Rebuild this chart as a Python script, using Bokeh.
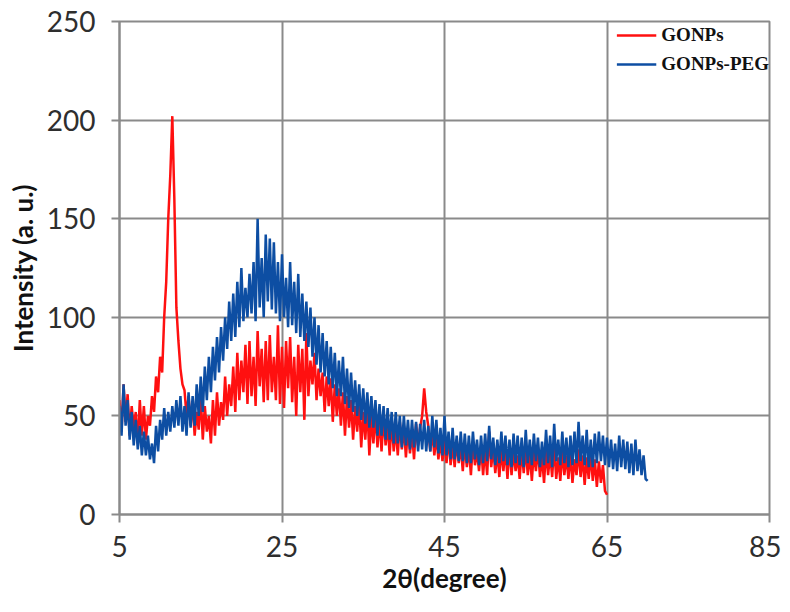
from bokeh.plotting import figure
from bokeh.models import Range1d, FixedTicker, Legend, LegendItem
from bokeh.embed import file_html
from bokeh.resources import INLINE

# 2-theta grid: 0.25 degree steps
x_start = 5.0
x_step = 0.25

# GONPs intensity (5 .. 65 deg), one row per degree
gonps = [
    58, 42, 66, 47,
    61, 40, 55, 44,
    52, 36, 58, 40,
    55, 38, 50, 45,
    60, 52, 70, 62,
    80, 72, 100, 118,
    150, 172, 202, 160,
    105, 88, 74, 66,
    63, 50, 60, 45,
    57, 40, 52, 43,
    60, 38, 55, 42,
    50, 36, 58, 40,
    62, 45, 57, 48,
    70, 50, 66, 55,
    75, 52, 82, 58,
    78, 62, 86, 56,
    88, 60, 80, 55,
    93, 65, 84, 57,
    88, 58, 91, 62,
    80, 58, 96, 56,
    85, 54, 88, 64,
    90, 57, 80, 50,
    86, 62, 84, 48,
    92, 60, 78, 66,
    82, 58, 74, 60,
    72, 52, 70, 55,
    69, 47, 66, 50,
    64, 45, 62, 40,
    60, 44, 58, 38,
    55, 42, 57, 34,
    52, 38, 55, 30,
    50, 36, 52, 34,
    49, 32, 50, 35,
    46, 30, 48, 32,
    44, 30, 47, 33,
    45, 29, 44, 31,
    42, 28, 46, 35,
    44, 50, 64, 52,
    45, 32, 42, 30,
    40, 28, 38, 27,
    38, 26, 40, 25,
    36, 24, 38, 26,
    35, 22, 36, 24,
    34, 20, 37, 25,
    32, 22, 35, 20,
    33, 20, 42, 24,
    34, 21, 32, 19,
    33, 22, 34, 18,
    35, 20, 32, 22,
    30, 18, 33, 21,
    34, 20, 31, 17,
    32, 22, 34, 19,
    30, 16, 33, 20,
    31, 19, 35, 18,
    29, 17, 32, 20,
    30, 18, 31, 16,
    28, 20, 33, 19,
    30, 15, 29, 18,
    31, 17, 28, 14,
    27, 16, 25, 12,
    10,
]

# GONPs-PEG intensity (5 .. 70 deg), one row per degree
gonps_peg = [
    55, 40, 66, 45,
    58, 38, 52, 35,
    48, 33, 45, 30,
    42, 30, 40, 28,
    36, 26, 45, 32,
    48, 38, 54, 40,
    52, 42, 55, 44,
    58, 45, 60, 42,
    55, 40, 62, 44,
    60, 45, 66, 50,
    70, 52, 75, 58,
    80, 62, 85, 68,
    90, 72, 95, 78,
    100, 84, 108, 88,
    112, 90, 118, 95,
    125, 98, 115, 100,
    122, 102, 128, 98,
    150, 105, 130, 100,
    142, 108, 140, 104,
    138, 102, 128, 98,
    132, 100, 120, 95,
    128, 96, 118, 92,
    122, 90, 112, 88,
    108, 85, 105, 80,
    100, 76, 96, 72,
    92, 70, 88, 66,
    85, 64, 82, 60,
    78, 60, 80, 56,
    74, 54, 72, 52,
    68, 50, 66, 48,
    64, 46, 62, 44,
    60, 44, 58, 40,
    56, 40, 55, 38,
    54, 38, 52, 36,
    52, 36, 50, 34,
    50, 35, 48, 33,
    48, 34, 47, 32,
    46, 33, 48, 32,
    45, 32, 50, 34,
    48, 31, 44, 30,
    50, 30, 42, 28,
    44, 28, 40, 27,
    42, 27, 41, 26,
    40, 26, 42, 28,
    38, 25, 40, 26,
    41, 27, 45, 28,
    39, 25, 38, 26,
    42, 27, 40, 25,
    38, 24, 41, 26,
    40, 25, 39, 24,
    43, 26, 38, 25,
    41, 27, 39, 24,
    37, 25, 43, 26,
    40, 24, 46, 27,
    38, 25, 42, 26,
    39, 24, 40, 25,
    42, 26, 47, 27,
    40, 25, 43, 24,
    38, 24, 41, 26,
    42, 27, 40, 25,
    39, 24, 38, 23,
    36, 22, 40, 24,
    38, 23, 37, 21,
    36, 20, 38, 22,
    33, 20, 30, 18,
    17,
]

series_names = ["GONPs", "GONPs-PEG"]
series_colors = ["#ff1010", "#0d4ea3"]
x_ticks = [5, 25, 45, 65, 85]
y_ticks = [0, 50, 100, 150, 200, 250]

x_gonps = [x_start + i * x_step for i in range(len(gonps))]
x_peg = [x_start + i * x_step for i in range(len(gonps_peg))]

grid_color = "#8a8a8a"
label_color = "#2e2e2e"

p = figure(width=781, height=603, output_backend="svg", toolbar_location=None,
           x_range=Range1d(5, 85), y_range=Range1d(0, 250),
           min_border_left=119, min_border_right=12, min_border_top=21, min_border_bottom=89)

p.outline_line_color = grid_color
p.outline_line_width = 2

for ax in (p.xaxis[0], p.yaxis[0]):
    ax.axis_line_color = grid_color
    ax.axis_line_width = 2
    ax.major_tick_line_color = grid_color
    ax.major_tick_line_width = 2
    ax.major_tick_out = 8
    ax.major_tick_in = 0
    ax.minor_tick_line_color = None
    ax.major_label_text_font = "Lato"
    ax.major_label_text_font_size = "28px"
    ax.major_label_text_color = label_color
    ax.axis_label_text_font = "Lato"
    ax.axis_label_text_font_style = "bold"
    ax.axis_label_text_font_size = "26px"
    ax.axis_label_text_color = "#111111"

p.xaxis.ticker = FixedTicker(ticks=x_ticks)
p.yaxis.ticker = FixedTicker(ticks=y_ticks)
p.xaxis.axis_label = "2θ(degree)"
p.yaxis.axis_label = "Intensity (a. u.)"
p.xaxis.major_label_standoff = 13
p.xaxis.axis_label_standoff = 2
p.yaxis.major_label_standoff = 16
p.yaxis.axis_label_standoff = 5

p.xgrid.grid_line_color = grid_color
p.ygrid.grid_line_color = grid_color
p.xgrid.grid_line_width = 2
p.ygrid.grid_line_width = 2

r1 = p.line(x_gonps, gonps, line_color=series_colors[0], line_width=2.5)
r2 = p.line(x_peg, gonps_peg, line_color=series_colors[1], line_width=2.5)

legend = Legend(items=[LegendItem(label=series_names[0], renderers=[r1]),
                       LegendItem(label=series_names[1], renderers=[r2])],
                location="top_right")
legend.background_fill_alpha = 0
legend.border_line_color = None
legend.label_text_font = "Liberation Serif"
legend.label_text_font_style = "bold"
legend.label_text_font_size = "19px"
legend.label_text_color = "#111111"
legend.glyph_width = 40
legend.glyph_height = 28
legend.label_height = 28
legend.spacing = 1
legend.padding = 5
legend.margin = 0
legend.label_standoff = 5
p.add_layout(legend)

open("out.html", "w").write(file_html(p, INLINE))
